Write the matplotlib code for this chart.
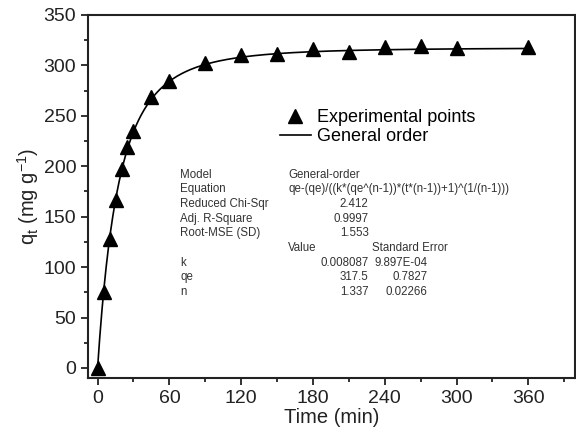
import numpy as np
import matplotlib
matplotlib.use("Agg")
import matplotlib.pyplot as plt
from matplotlib.ticker import MultipleLocator

plt.rcParams['font.family'] = ['Liberation Sans', 'DejaVu Sans']
plt.rcParams['mathtext.fontset'] = 'custom'
plt.rcParams['mathtext.rm'] = 'Liberation Sans'
plt.rcParams['mathtext.it'] = 'Liberation Sans'

# experimental kinetic data
time_min = [0, 5, 10, 15, 20, 25, 30, 45, 60, 90, 120, 150, 180, 210, 240, 270, 300, 360]
qt_exp = [0, 75, 128, 167, 197, 219, 235, 269, 285, 302, 310, 311, 316, 313, 318, 319, 317, 318]

# general-order fit parameters (as printed in the chart)
k_fit = 0.008087
qe_fit = 317.5
n_fit = 1.337

fit_rows = [
    ("Model", "General-order"),
    ("Equation", "qe-(qe)/((k*(qe^(n-1))*(t*(n-1))+1)^(1/(n-1)))"),
    ("Reduced Chi-Sqr", "2.412"),
    ("Adj. R-Square", "0.9997"),
    ("Root-MSE (SD)", "1.553"),
]
param_names = ["k", "qe", "n"]
param_values = ["0.008087", "317.5", "1.337"]
param_errors = ["9.897E-04", "0.7827", "0.02266"]

fig = plt.figure(figsize=(5.76, 4.36), dpi=100)
ax = fig.add_axes([0.1528, 0.133, 0.8455, 0.8326])

t_line = np.linspace(0, 360, 400)
q_line = qe_fit - qe_fit / ((k_fit * qe_fit ** (n_fit - 1)) * (t_line * (n_fit - 1)) + 1) ** (1 / (n_fit - 1))

ax.plot(time_min, qt_exp, linestyle='none', marker='^', ms=9.5, color='black',
        label='Experimental points', zorder=3)
ax.plot(t_line, q_line, color='black', lw=1.2, label='General order', zorder=2)

ax.set_xlim(-8, 399)
ax.set_ylim(-10, 350)
ax.xaxis.set_major_locator(MultipleLocator(60))
ax.xaxis.set_minor_locator(MultipleLocator(30))
ax.yaxis.set_major_locator(MultipleLocator(50))
ax.yaxis.set_minor_locator(MultipleLocator(25))
ax.tick_params(which='both', direction='out', width=1.3, colors='#222222',
               labelsize=14, top=False, right=False)
ax.tick_params(which='major', length=5)
ax.tick_params(which='minor', length=3)
for sp in ax.spines.values():
    sp.set_linewidth(1.5)
    sp.set_color('#222222')

ax.set_xlabel('Time (min)', fontsize=14.5, color='#222222', labelpad=1)
ax.set_ylabel('q$_\\mathrm{t}$ (mg g$^\\mathrm{-1}$)', fontsize=14.5, color='#222222', labelpad=2)

ax.legend(loc='upper left', bbox_to_anchor=(0.394, 0.74), frameon=False,
          fontsize=13, handlelength=1.7, handletextpad=0.35, labelspacing=0.08,
          borderpad=0, borderaxespad=0)

# fit statistics table
y0 = 191.5
dy = 14.5
fs = 8.3
tc = '#333333'
for i, (lbl, val) in enumerate(fit_rows):
    y = y0 - i * dy
    ax.text(69, y, lbl, fontsize=fs, color=tc, va='center', ha='left')
    if i < 2:
        ax.text(159.5, y, val, fontsize=fs, color=tc, va='center', ha='left')
    else:
        ax.text(226.5, y, val, fontsize=fs, color=tc, va='center', ha='right')
y = y0 - len(fit_rows) * dy
ax.text(159.5, y, "Value", fontsize=fs, color=tc, va='center', ha='left')
ax.text(229, y, "Standard Error", fontsize=fs, color=tc, va='center', ha='left')
for j, (nm, v, e) in enumerate(zip(param_names, param_values, param_errors)):
    y = y0 - (len(fit_rows) + 1 + j) * dy
    ax.text(69, y, nm, fontsize=fs, color=tc, va='center', ha='left')
    ax.text(226.5, y, v, fontsize=fs, color=tc, va='center', ha='right')
    ax.text(276, y, e, fontsize=fs, color=tc, va='center', ha='right')

fig.savefig('out.png', dpi=100, facecolor='white')
